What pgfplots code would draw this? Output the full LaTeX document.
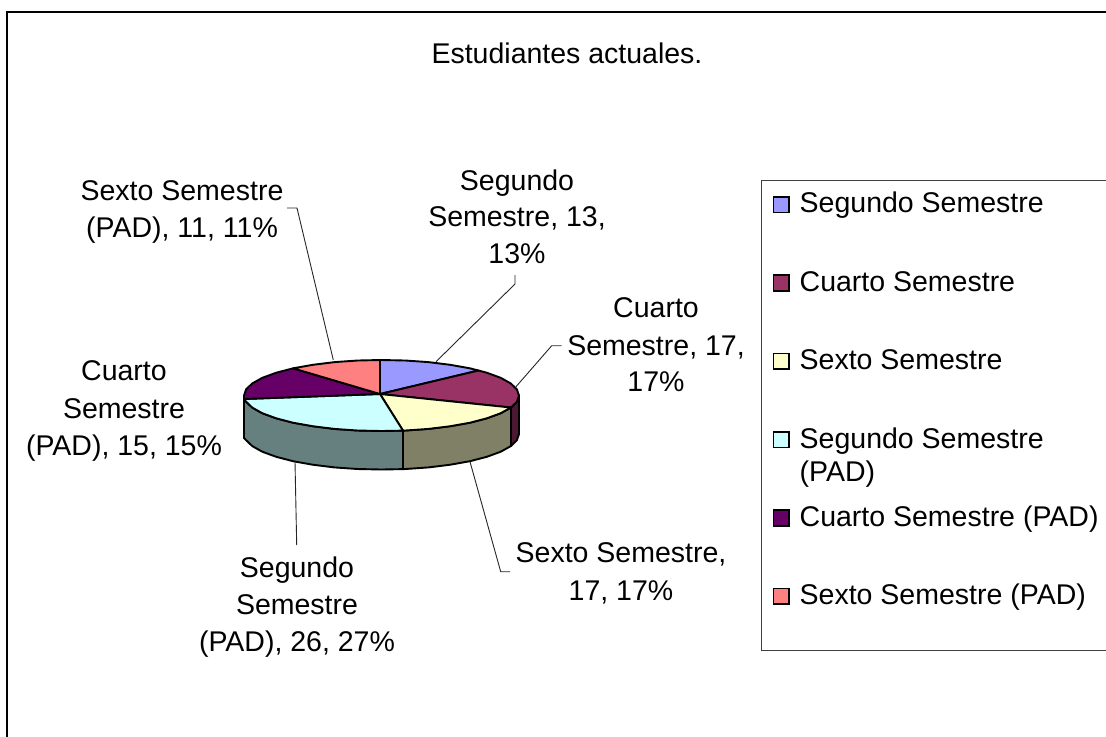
\documentclass[border=0pt]{standalone}
\usepackage{fontspec}
\setmainfont{Liberation Sans}
\usepackage{pgfplots}
\pgfplotsset{compat=1.18}
\definecolor{cA}{HTML}{9999FF}
\definecolor{cB}{HTML}{993366}
\definecolor{cC}{HTML}{FFFFCC}
\definecolor{cD}{HTML}{CCFFFF}
\definecolor{cE}{HTML}{660066}
\definecolor{cF}{HTML}{FF8080}
\definecolor{sB}{HTML}{4C1933}
\definecolor{sC}{HTML}{808066}
\definecolor{sD}{HTML}{668080}
\tikzset{
  tx/.style={anchor=base,inner sep=0pt,font=\fontsize{14.25}{16.5}\selectfont},
  lg/.style={anchor=base west,inner sep=0pt,font=\fontsize{14.25}{16.5}\selectfont},
}
\pgfplotsset{
  pie/.style={draw=black,line width=0.95pt,line join=round},
  lead/.style={draw=black!85,line width=0.45pt},
  sw/.style={only marks,mark=square*,mark size=3.9pt,mark options={draw=black,line width=0.8pt,fill=#1}},
}
\begin{document}
\begin{tikzpicture}
\path[use as bounding box] (0,0) rectangle (553pt,368pt);
\begin{axis}[at={(0,0)},anchor=south west,scale only axis,width=553pt,height=368pt,
  xmin=0,xmax=1106,ymin=0,ymax=736,y dir=reverse,hide axis,clip=true]
% chart frame
\addplot[draw=black,line width=1pt] coordinates {(1200,12) (7,12) (7,800)};
% legend frame
\addplot[draw=black!75,line width=0.5pt] coordinates {(1200,180) (761.7,180) (761.7,650) (1200,650)};
% side faces
\addplot[pie,fill=sB] coordinates {(519,395.5) (516.9,401.7) (511,407.5) (511,446) (516.9,440.2) (519,434)} --cycle;
\addplot[pie,fill=sC] coordinates {(511,407.5) (500.6,413.25) (486.8,418.3) (469.9,422.7) (450.25,426.2) (428.5,428.9) (405.4,430.5) (403,430.6) (403,469.1) (405.4,469) (428.5,467.4) (450.25,464.7) (469.9,461.2) (486.8,456.8) (500.6,451.75) (511,446)} --cycle;
\addplot[pie,fill=sD] coordinates {(403,430.6) (381.5,431) (357.6,430.5) (334.5,428.9) (312.75,426.2) (293.1,422.7) (276.2,418.3) (262.4,413.25) (252.3,407.6) (246.1,401.7) (244,399) (244,438) (246.1,440.2) (252.3,446.1) (262.4,451.75) (276.2,456.8) (293.1,461.2) (312.75,464.7) (334.5,467.4) (357.6,469) (381.5,469.5) (403,469.1)} --cycle;
% top faces
\addplot[pie,fill=cA] coordinates {(380,394) (380,360) (381.5,360) (405.4,360.5) (428.5,362.1) (450.25,364.8) (469.9,368.3) (478.5,370.5)} --cycle;
\addplot[pie,fill=cB] coordinates {(380,394) (478.5,370.5) (486.8,372.7) (500.6,377.75) (510.7,383.4) (516.9,389.3) (519,395.5) (516.9,401.7) (511,407.5)} --cycle;
\addplot[pie,fill=cC] coordinates {(380,394) (511,407.5) (500.6,413.25) (486.8,418.3) (469.9,422.7) (450.25,426.2) (428.5,428.9) (405.4,430.5) (403,430.6)} --cycle;
\addplot[pie,fill=cD] coordinates {(380,394) (403,430.6) (381.5,431) (357.6,430.5) (334.5,428.9) (312.75,426.2) (293.1,422.7) (276.2,418.3) (262.4,413.25) (252.3,407.6) (246.1,401.7) (244,399)} --cycle;
\addplot[pie,fill=cE] coordinates {(380,394) (244,399) (244,395.5) (246.1,389.3) (252.3,383.4) (262.4,377.75) (276.2,372.7) (293.1,368.3)} --cycle;
\addplot[pie,fill=cF] coordinates {(380,394) (293.1,368.3) (312.75,364.8) (334.5,362.1) (357.6,360.5) (380,360)} --cycle;
% leader lines
\addplot[lead] coordinates {(515,275) (515,284) (436,361.7)};
\addplot[lead] coordinates {(561.7,345.7) (551.7,345.7) (516,386.7)};
\addplot[lead] coordinates {(510,571.7) (500.7,571.7) (470,461.7)};
\addplot[lead] coordinates {(296.7,545) (295,461.7)};
\addplot[lead] coordinates {(287,208) (297,208) (333.3,360)};
% legend swatches
\addplot[sw=cA] coordinates {(781.3,204.7)};
\addplot[sw=cB] coordinates {(781.3,283)};
\addplot[sw=cC] coordinates {(781.3,361.3)};
\addplot[sw=cD] coordinates {(781.3,439.7)};
\addplot[sw=cE] coordinates {(781.3,518)};
\addplot[sw=cF] coordinates {(781.3,596.3)};
% legend text
\node[lg] at (axis cs:799.3,212.7) {Segundo Semestre};
\node[lg] at (axis cs:799.3,291.7) {Cuarto Semestre};
\node[lg] at (axis cs:799.3,369.3) {Sexto Semestre};
\node[lg] at (axis cs:799.3,448.3) {Segundo Semestre};
\node[lg] at (axis cs:799.3,481.7) {(PAD)};
\node[lg] at (axis cs:799.3,526.7) {Cuarto Semestre (PAD)};
\node[lg] at (axis cs:799.3,604.3) {Sexto Semestre (PAD)};
% title
\node[tx] at (axis cs:567,63) {Estudiantes actuales.};
% data labels
\node[tx] at (axis cs:517,190) {Segundo};
\node[tx] at (axis cs:517,226.5) {Semestre, 13,};
\node[tx] at (axis cs:517,263) {13\%};
\node[tx] at (axis cs:656,317.5) {Cuarto};
\node[tx] at (axis cs:656,355) {Semestre, 17,};
\node[tx] at (axis cs:656,391.7) {17\%};
\node[tx] at (axis cs:621,562.5) {Sexto Semestre,};
\node[tx] at (axis cs:621,600) {17, 17\%};
\node[tx] at (axis cs:297,577.5) {Segundo};
\node[tx] at (axis cs:297,614.3) {Semestre};
\node[tx] at (axis cs:297,651.5) {(PAD), 26, 27\%};
\node[tx] at (axis cs:124,380.7) {Cuarto};
\node[tx] at (axis cs:124,418.3) {Semestre};
\node[tx] at (axis cs:124,455) {(PAD), 15, 15\%};
\node[tx] at (axis cs:182,200.5) {Sexto Semestre};
\node[tx] at (axis cs:182,237) {(PAD), 11, 11\%};
\end{axis}
\end{tikzpicture}
\end{document}
